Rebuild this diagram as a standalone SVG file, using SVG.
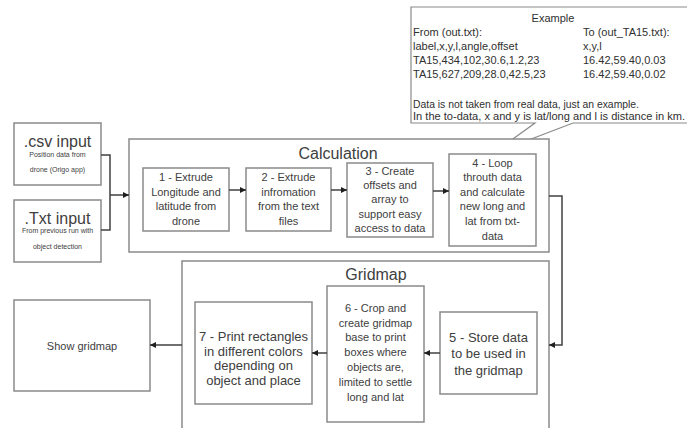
<svg xmlns="http://www.w3.org/2000/svg" width="687" height="428" viewBox="0 0 687 428">
<defs>
<style>
.box{fill:#fff;stroke:#8a8a8a;stroke-width:1.5}
.cont{fill:#fff;stroke:#8a8a8a;stroke-width:1.5}
.t{font-family:"Liberation Sans",Arial,sans-serif;fill:#404040;text-anchor:middle}
.s11{font-size:11px}
.s13{font-size:13px}
.s16{font-size:16px}
.s7{font-size:7px}
.cl{font-family:"Liberation Sans",Arial,sans-serif;fill:#303030;font-size:11px}
.ln{fill:none;stroke:#404040;stroke-width:1.5}
</style>
<marker id="ah" viewBox="0 0 10 10" refX="10" refY="5" markerWidth="6" markerHeight="6" orient="auto" markerUnits="userSpaceOnUse">
<path d="M0,0 L10,5 L0,10 z" fill="#202020"/>
</marker>
</defs>
<rect width="687" height="428" fill="#fff"/>

<g id="callout">
<path d="M411,7 L690,7 L690,123 L573,123 L492,154 L535,123 L411,123 Z" fill="#fff" stroke="#8a8a8a" stroke-width="1.2"/>
<text class="cl" x="553" y="22" text-anchor="middle">Example</text>
<text class="cl" x="413" y="36">From (out.txt):</text>
<text class="cl" x="413" y="50">label,x,y,l,angle,offset</text>
<text class="cl" x="413" y="64">TA15,434,102,30.6,1.2,23</text>
<text class="cl" x="413" y="78">TA15,627,209,28.0,42.5,23</text>
<text class="cl" x="583" y="36">To (out_TA15.txt):</text>
<text class="cl" x="583" y="50">x,y,l</text>
<text class="cl" x="583" y="64">16.42,59.40,0.03</text>
<text class="cl" x="583" y="78">16.42,59.40,0.02</text>
<text class="cl" x="413" y="108" textLength="226" lengthAdjust="spacingAndGlyphs">Data is not taken from real data, just an example.</text>
<text class="cl" x="413" y="120" textLength="272" lengthAdjust="spacingAndGlyphs">In the to-data, x and y is lat/long and l is distance in km.</text>
</g>

<g id="csv">
<rect class="box" x="14" y="123" width="87" height="62"/>
<text class="t s16" x="57.5" y="147">.csv input</text>
<text class="t s7" x="57.5" y="157">Position data from</text>
<text class="t s7" x="57.5" y="172">drone (Origo app)</text>
</g>
<g id="txt">
<rect class="box" x="14" y="200" width="87" height="62"/>
<text class="t s16" x="57.5" y="224">.Txt input</text>
<text class="t s7" x="57.5" y="233">From previous run with</text>
<text class="t s7" x="57.5" y="249">object detection</text>
</g>

<g id="calculation">
<rect class="cont" x="129" y="139" width="420" height="113"/>
<text class="t s16" x="338" y="159">Calculation</text>
</g>
<g id="step1">
<rect class="box" x="143" y="168" width="86" height="63"/>
<text class="t s11"><tspan x="186" y="181">1 - Extrude</tspan><tspan x="186" y="196">Longitude and</tspan><tspan x="186" y="210">latitude from</tspan><tspan x="186" y="225">drone</tspan></text>
</g>
<g id="step2">
<rect class="box" x="246" y="168" width="85" height="63"/>
<text class="t s11"><tspan x="288.5" y="181">2 - Extrude</tspan><tspan x="288.5" y="196">infromation</tspan><tspan x="288.5" y="210">from the text</tspan><tspan x="288.5" y="225">files</tspan></text>
</g>
<g id="step3">
<rect class="box" x="347" y="163" width="86" height="74"/>
<text class="t s11"><tspan x="390" y="175">3 - Create</tspan><tspan x="390" y="189">offsets and</tspan><tspan x="390" y="203">array to</tspan><tspan x="390" y="218">support easy</tspan><tspan x="390" y="232">access to data</tspan></text>
</g>
<g id="step4">
<rect class="box" x="449" y="154" width="87" height="92"/>
<text class="t s11"><tspan x="492.5" y="167">4 - Loop</tspan><tspan x="492.5" y="181">throuth data</tspan><tspan x="492.5" y="196">and calculate</tspan><tspan x="492.5" y="210">new long and</tspan><tspan x="492.5" y="225">lat from txt-</tspan><tspan x="492.5" y="240">data</tspan></text>
</g>

<g id="gridmap">
<rect class="cont" x="182" y="261" width="367" height="180"/>
<text class="t s16" x="376" y="280">Gridmap</text>
</g>
<g id="step5">
<rect class="box" x="440" y="312" width="97" height="82"/>
<text class="t s13"><tspan x="488.5" y="342">5 - Store data</tspan><tspan x="488.5" y="358">to be used in</tspan><tspan x="488.5" y="375">the gridmap</tspan></text>
</g>
<g id="step6">
<rect class="box" x="327" y="286" width="97" height="136"/>
<text class="t s11"><tspan x="375.5" y="312">6 - Crop and</tspan><tspan x="375.5" y="327">create gridmap</tspan><tspan x="375.5" y="341">base to print</tspan><tspan x="375.5" y="356">boxes where</tspan><tspan x="375.5" y="371">objects are,</tspan><tspan x="375.5" y="386">limited to settle</tspan><tspan x="375.5" y="401">long and lat</tspan></text>
</g>
<g id="step7">
<rect class="box" x="195" y="302" width="117" height="102"/>
<text class="t s13"><tspan x="253.5" y="341">7 - Print rectangles</tspan><tspan x="253.5" y="356">in different colors</tspan><tspan x="253.5" y="370">depending on</tspan><tspan x="253.5" y="385">object and place</tspan></text>
</g>
<g id="show">
<rect class="box" x="14" y="300" width="136" height="91"/>
<text class="t s11" x="82" y="350">Show gridmap</text>
</g>

<g id="connectors">
<path class="ln" d="M101,155 H110 V230 H101"/>
<path class="ln" d="M110,195 H129" marker-end="url(#ah)"/>
<path class="ln" d="M229,190 H246" marker-end="url(#ah)"/>
<path class="ln" d="M331,190 H347" marker-end="url(#ah)"/>
<path class="ln" d="M433,191 H449" marker-end="url(#ah)"/>
<path class="ln" d="M549,196 H562 V345 H549" marker-end="url(#ah)"/>
<path class="ln" d="M440,353 H424" marker-end="url(#ah)"/>
<path class="ln" d="M327,353 H312" marker-end="url(#ah)"/>
<path class="ln" d="M182,345 H150" marker-end="url(#ah)"/>
</g>
</svg>
